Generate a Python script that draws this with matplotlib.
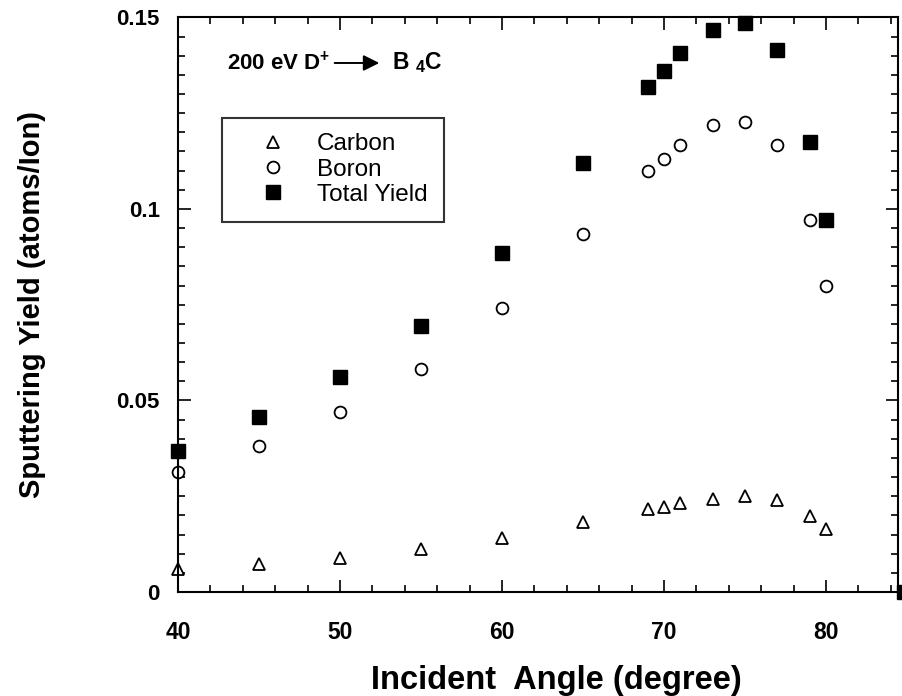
import matplotlib.pyplot as plt
from matplotlib.ticker import MultipleLocator

plt.rcParams['font.family'] = ['Liberation Sans', 'DejaVu Sans']
plt.rcParams['mathtext.fontset'] = 'custom'
plt.rcParams['mathtext.rm'] = 'Liberation Sans:bold'
plt.rcParams['mathtext.bf'] = 'Liberation Sans:bold'
plt.rcParams['mathtext.default'] = 'bf'

# data
angle = [40, 45, 50, 55, 60, 65, 69, 70, 71, 73, 75, 77, 79, 80]
carbon = [0.0059, 0.0072, 0.0088, 0.0111, 0.0142, 0.0183, 0.0217, 0.0223,
          0.0233, 0.0243, 0.0251, 0.0240, 0.0199, 0.0165]
boron = [0.0314, 0.0382, 0.0469, 0.0583, 0.0742, 0.0935, 0.1098, 0.1131,
         0.1167, 0.1218, 0.1228, 0.1167, 0.0970, 0.0800]
total_angle = [40, 45, 50, 55, 60, 65, 69, 70, 71, 73, 75, 77, 79, 80, 84.8]
total = [0.0368, 0.0457, 0.0562, 0.0695, 0.0886, 0.1120, 0.1319, 0.1360,
         0.1408, 0.1466, 0.1486, 0.1414, 0.1175, 0.0972, 0.0]

fig = plt.figure(figsize=(9.02, 6.96), dpi=100)
ax = fig.add_axes([0.1973, 0.1494, 0.7983, 0.8256])

ax.plot(angle, carbon, linestyle='none', marker='^', markersize=8.5,
        markerfacecolor='white', markeredgecolor='black', markeredgewidth=1.3,
        label='Carbon', clip_on=False)
ax.plot(angle, boron, linestyle='none', marker='o', markersize=8.5,
        markerfacecolor='white', markeredgecolor='black', markeredgewidth=1.3,
        label='Boron', clip_on=False)
ax.plot(total_angle, total, linestyle='none', marker='s', markersize=9.5,
        color='black', label='Total Yield', clip_on=False)

ax.set_xlim(40, 84.45)
ax.set_ylim(0, 0.15)
ax.xaxis.set_major_locator(MultipleLocator(10))
ax.xaxis.set_minor_locator(MultipleLocator(2))
ax.yaxis.set_minor_locator(MultipleLocator(0.005))
ax.set_yticks([0, 0.05, 0.1, 0.15])
ax.set_yticklabels(['0', '0.05', '0.1', '0.15'])
ax.tick_params(which='both', direction='in', top=True, right=True, width=1.2)
ax.tick_params(which='major', length=9)
ax.tick_params(which='minor', length=5)
ax.tick_params(axis='x', labelsize=16.5, pad=21)
ax.tick_params(axis='y', labelsize=16, pad=13)
for lab in ax.get_xticklabels() + ax.get_yticklabels():
    lab.set_fontweight('bold')
for sp in ax.spines.values():
    sp.set_linewidth(1.5)

ax.set_xlabel('Incident  Angle (degree)', fontsize=23.5, fontweight='bold')
ax.xaxis.set_label_coords(0.526, -0.127)
ax.set_ylabel('Sputtering Yield (atoms/Ion)', fontsize=21, fontweight='bold', labelpad=51)

ax.text(43.0, 0.1381, r'200 eV D$^{+}$', fontsize=16, fontweight='bold',
        va='center', ha='left')
ax.annotate('', xy=(52.6, 0.1381), xytext=(49.5, 0.1381),
            arrowprops=dict(arrowstyle='-|>', color='black', lw=1.4,
                            mutation_scale=24))
ax.text(53.2, 0.1381, r'B $_{4}$C', fontsize=16.5, fontweight='bold',
        va='center', ha='left')

leg = ax.legend(loc='upper left', bbox_to_anchor=(0.0610, 0.8255), fontsize=17.5,
                frameon=True, fancybox=False, edgecolor='black',
                borderpad=0.65, handletextpad=0.37, labelspacing=0.13,
                handlelength=2.9, borderaxespad=0)
leg.get_frame().set_linewidth(1.5)

fig.savefig('out.png', dpi=100)
